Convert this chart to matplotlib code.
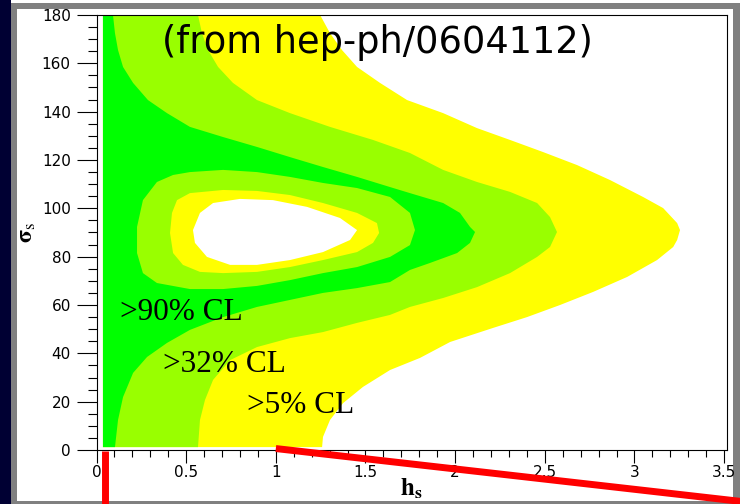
"""
Confidence-level regions in the (h_s, sigma_s) plane
(from hep-ph/0604112), redrawn as filled contour bands.
"""
import numpy as np
import matplotlib
matplotlib.use("Agg")
import matplotlib.pyplot as plt
from matplotlib.patches import Rectangle
from matplotlib.ticker import MultipleLocator

# ── data (h_s, sigma_s) ──────────────────────────────────────────────────────
EDGE_H   = 0.036          # left edge of the scanned grid
SIG_TOP  = 180.0
SIG_BOT  = 1.2

# outer contours, traced from top (sigma=180) down to the bottom of the grid
C05_OUT_H = [1.247, 1.302, 1.369, 1.453, 1.581, 1.732, 1.933, 2.122, 2.306, 2.490,
             2.680, 2.864, 3.048, 3.160, 3.238, 3.254, 3.238, 3.216, 3.126, 2.959,
             2.769, 2.585, 2.401, 2.211, 1.972, 1.804, 1.637, 1.486, 1.375, 1.302,
             1.263, 1.258]
C05_OUT_S = [180.0, 172.5, 165.5, 158.5, 151.9, 144.8, 139.4, 133.2, 128.3, 123.3,
             117.9, 111.7, 104.7, 100.1, 93.9, 91.0, 86.9, 84.0, 78.6, 71.6,
             65.4, 60.0, 55.0, 50.5, 44.7, 38.1, 33.1, 26.1, 19.4, 12.4,
             5.4, 1.2]

C32_OUT_H = [0.566, 0.588, 0.622, 0.678, 0.761, 0.895, 1.079, 1.302, 1.542, 1.748,
             1.933, 2.122, 2.306, 2.457, 2.529, 2.568, 2.529, 2.457, 2.306, 2.122,
             1.933, 1.748, 1.637, 1.453, 1.263, 1.079, 0.895, 0.745, 0.650, 0.605,
             0.577, 0.566]
C32_OUT_S = [180.0, 172.5, 165.5, 158.5, 151.9, 144.8, 139.4, 133.7, 128.3, 122.9,
             115.9, 110.9, 106.8, 102.2, 96.4, 90.2, 84.0, 79.9, 73.2, 67.4,
             62.9, 59.2, 55.9, 52.6, 48.8, 46.3, 42.6, 37.2, 29.0, 20.7,
             12.4, 1.2]

C90_OUT_H = [0.092, 0.103, 0.120, 0.148, 0.204, 0.287, 0.393, 0.521, 0.706, 0.895,
             1.079, 1.263, 1.453, 1.637, 1.748, 1.933, 2.027, 2.083, 2.111, 2.083,
             2.011, 1.860, 1.748, 1.637, 1.453, 1.263, 1.079, 0.895, 0.706, 0.521,
             0.393, 0.282, 0.204, 0.148, 0.120, 0.103]
C90_OUT_S = [180.0, 172.5, 165.5, 158.5, 151.9, 144.8, 139.4, 133.7, 129.5, 125.4,
             121.2, 117.1, 113.0, 108.8, 106.3, 102.2, 98.1, 92.3, 90.2, 85.7,
             81.5, 77.4, 74.5, 69.5, 67.0, 65.0, 62.1, 59.2, 55.0, 49.7,
             44.3, 38.5, 31.9, 21.9, 12.4, 1.2]

# inner closed contours around the minimum
C90_IN_H = [0.226, 0.259, 0.337, 0.427, 0.521, 0.706, 0.895, 1.079, 1.263, 1.453,
            1.637, 1.748, 1.776, 1.748, 1.637, 1.453, 1.263, 1.079, 0.895, 0.706,
            0.521, 0.337, 0.259, 0.226]
C90_IN_S = [92.3, 103.4, 110.9, 113.8, 115.0, 115.9, 115.0, 113.0, 110.5, 108.4,
            104.7, 98.1, 91.0, 84.8, 79.9, 75.7, 73.2, 70.3, 67.9, 66.6,
            66.6, 69.1, 73.2, 81.5]

C32_IN_H = [0.410, 0.421, 0.449, 0.521, 0.706, 0.895, 1.079, 1.263, 1.453, 1.564,
            1.576, 1.542, 1.453, 1.263, 1.079, 0.895, 0.706, 0.577, 0.482, 0.427]
C32_IN_S = [89.8, 98.1, 103.4, 106.3, 107.6, 107.2, 105.5, 102.2, 98.1, 93.9,
            89.8, 85.7, 81.9, 78.6, 75.7, 73.7, 73.2, 73.7, 76.6, 81.5]

C05_IN_H = [0.538, 0.577, 0.650, 0.800, 0.984, 1.174, 1.358, 1.453, 1.414, 1.263,
            1.079, 0.895, 0.745, 0.616, 0.549]
C05_IN_S = [91.0, 98.1, 102.2, 103.9, 103.4, 100.6, 96.0, 91.0, 86.9, 81.9,
            78.6, 76.6, 76.6, 79.9, 85.7]

CL_LABELS = [">90% CL", ">32% CL", ">5% CL"]
CL_POS_H  = [0.131, 0.371, 0.840]
CL_POS_S  = [53.8, 32.3, 15.3]

YELLOW = "#ffff00"
LIGHT  = "#99ff00"
GREEN  = "#00ff00"
NAVY   = "#000033"
GRAY   = "#808080"


def outer_band(h, s):
    pts = [(EDGE_H, SIG_TOP)] + list(zip(h, s)) + [(EDGE_H, SIG_BOT)]
    return np.array(pts)


def main():
    fig = plt.figure(figsize=(7.4, 5.04), dpi=100)
    fig.patch.set_facecolor(NAVY)

    # slide panel: gray frame, white inside
    fig.patches.append(Rectangle((11 / 740, -0.1), 1.0, 1 - 3 / 504 + 0.1,
                                 transform=fig.transFigure, facecolor=GRAY,
                                 edgecolor="none", zorder=-10))
    fig.patches.append(Rectangle((11 / 740, 1 - 3 / 504), 1.0, 3 / 504,
                                 transform=fig.transFigure, facecolor="white",
                                 edgecolor="none", zorder=-10))
    fig.patches.append(Rectangle((17 / 740, 3 / 504), (733 - 17) / 740, (501 - 9) / 504,
                                 transform=fig.transFigure, facecolor="white",
                                 edgecolor="none", zorder=-9))

    ax = fig.add_axes([96.5 / 740, 1 - 450 / 504, (727 - 96.5) / 740, 435 / 504])
    ax.set_facecolor("white")
    ax.set_xlim(0, 3.516)
    ax.set_ylim(0, 180)

    # bands, outermost first
    ax.fill(*outer_band(C05_OUT_H, C05_OUT_S).T, color=YELLOW, lw=0)
    ax.fill(*outer_band(C32_OUT_H, C32_OUT_S).T, color=LIGHT, lw=0)
    ax.fill(*outer_band(C90_OUT_H, C90_OUT_S).T, color=GREEN, lw=0)
    ax.fill(C90_IN_H, C90_IN_S, color=LIGHT, lw=0)
    ax.fill(C32_IN_H, C32_IN_S, color=YELLOW, lw=0)
    ax.fill(C05_IN_H, C05_IN_S, color="white", lw=0)

    for lab, h, s in zip(CL_LABELS, CL_POS_H, CL_POS_S):
        ax.text(h, s, lab, family="Liberation Serif", fontsize=22.5,
                ha="left", va="baseline")

    ax.text(0.365, 164.3, "(from hep-ph/0604112)", family="DejaVu Sans",
            fontsize=26.5, ha="left", va="baseline")

    # axes styling (ROOT-like)
    ax.xaxis.set_major_locator(MultipleLocator(0.5))
    ax.xaxis.set_minor_locator(MultipleLocator(0.1))
    ax.yaxis.set_major_locator(MultipleLocator(20))
    ax.yaxis.set_minor_locator(MultipleLocator(5))
    ax.tick_params(axis="x", which="major", direction="out", length=9,
                   width=0.8, pad=2, labelsize=11)
    ax.tick_params(axis="x", which="minor", direction="out", length=5, width=0.8)
    ax.tick_params(axis="y", which="major", direction="out", length=14.5,
                   width=0.8, pad=4, labelsize=11)
    ax.tick_params(axis="y", which="minor", direction="out", length=6.5, width=0.8)
    ax.xaxis.set_major_formatter(plt.FuncFormatter(lambda v, p: f"{v:g}"))
    ax.yaxis.set_major_formatter(plt.FuncFormatter(lambda v, p: f"{v:g}"))
    for sp in ax.spines.values():
        sp.set_linewidth(0.8)
        sp.set_color("black")

    ax.set_xlabel(r"$\mathbf{h}_\mathbf{s}$", fontsize=18)
    ax.xaxis.set_label_coords(0.5, -0.062)
    ax.set_ylabel(r"$\mathbf{\sigma}_\mathrm{s}$", fontsize=17)
    ax.yaxis.set_label_coords(-0.093, 0.5)

    # red annotation strokes over the bottom axis
    ax.plot([0.045, 0.045], [-0.5, -30], color="red", lw=5, clip_on=False,
            solid_capstyle="butt", zorder=10)
    ax.plot([1.0, 3.62], [0.6, -21.5], color="red", lw=5, clip_on=False,
            solid_capstyle="butt", zorder=10)

    fig.savefig("out.png", dpi=100, facecolor=fig.get_facecolor())
    plt.close(fig)


if __name__ == "__main__":
    plt.rcParams["mathtext.fontset"] = "stix"
    main()
